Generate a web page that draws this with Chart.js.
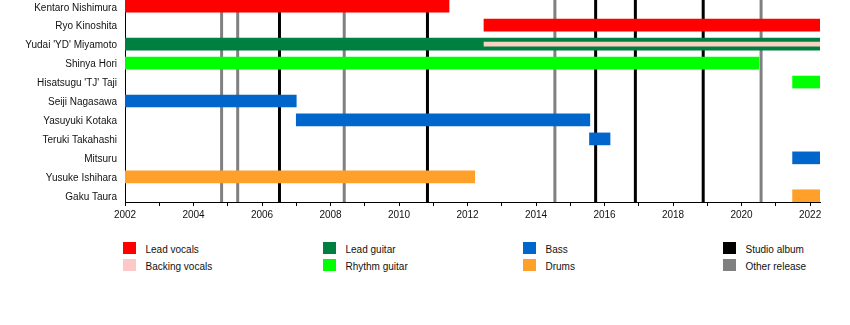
<!DOCTYPE html>
<html>
<head>
<meta charset="utf-8">
<script src="https://cdn.jsdelivr.net/npm/chart.js@4.4.1/dist/chart.umd.min.js"></script>
<style>
  html, body { margin: 0; padding: 0; background: #fff; }
  body { width: 850px; height: 325px; position: relative; overflow: hidden; font-family: "Liberation Sans", Arial, sans-serif; }
  #wrap { position: absolute; left: 0; top: 0; width: 850px; height: 224px; }
  .lg { position: absolute; font-size: 10px; color: #111; line-height: 12px; white-space: nowrap; }
  .sw { position: absolute; width: 13px; height: 12px; }
</style>
</head>
<body>
<div id="wrap"><canvas id="c" width="850" height="224"></canvas></div>
<div id="legend"></div>
<script>
// ---- data ----
const members = [
  "Kentaro Nishimura", "Ryo Kinoshita", "Yudai 'YD' Miyamoto", "Shinya Hori",
  "Hisatsugu 'TJ' Taji", "Seiji Nagasawa", "Yasuyuki Kotaka", "Teruki Takahashi",
  "Mitsuru", "Yusuke Ishihara", "Gaku Taura"
];
// [memberIndex, start, end]
const leadVocals    = [[0, 2002, 2011.46], [1, 2012.48, 2022.29]];
const backingVocals = [[2, 2012.48, 2022.29]];
const leadGuitar    = [[2, 2002, 2022.29]];
const rhythmGuitar  = [[3, 2002, 2020.51], [4, 2021.49, 2022.29]];
const bass          = [[5, 2002, 2007.0], [6, 2007.0, 2015.57], [7, 2015.56, 2016.16], [8, 2021.49, 2022.29]];
const drums         = [[9, 2002, 2012.21], [10, 2021.49, 2022.29]];
const studioAlbums  = [2006.51, 2010.83, 2015.74, 2016.90, 2018.88];
const otherReleases = [2004.82, 2005.29, 2008.40, 2014.55, 2020.57];
const yearTicks = [2002,2003,2004,2005,2006,2007,2008,2009,2010,2011,2012,2013,2014,2015,2016,2017,2018,2019,2020,2021,2022];

const X_MIN = 2002, X_MAX = 2022.29;
const Y_MIN = -0.33, Y_MAX = 10.33;

const roles = [
  { label: 'Lead vocals',    data: leadVocals,    color: '#ff0000', thick: 12, order: 1 },
  { label: 'Backing vocals', data: backingVocals, color: '#f9d2c4', thick: 4,  order: 0 },
  { label: 'Lead guitar',    data: leadGuitar,    color: '#008040', thick: 12, order: 1 },
  { label: 'Rhythm guitar',  data: rhythmGuitar,  color: '#00ff00', thick: 12, order: 1 },
  { label: 'Bass',           data: bass,          color: '#0066cc', thick: 12, order: 1 },
  { label: 'Drums',          data: drums,         color: '#ffa02a', thick: 12, order: 1 }
];
const releases = [
  { label: 'Studio album',  data: studioAlbums,  color: '#000000' },
  { label: 'Other release', data: otherReleases, color: '#808080' }
];

const datasets = [];
roles.forEach(r => {
  datasets.push({
    type: 'bar',
    label: r.label,
    indexAxis: 'y',
    data: r.data.map(d => ({ y: d[0], x: [d[1], d[2]] })),
    backgroundColor: r.color,
    borderWidth: 0,
    grouped: false,
    barThickness: r.thick,
    maxBarThickness: r.thick,
    order: r.order
  });
});
releases.forEach(rel => {
  rel.data.forEach(v => {
    datasets.push({
      type: 'line',
      label: rel.label,
      data: [{ x: v, y: Y_MIN }, { x: v, y: Y_MAX }],
      borderColor: rel.color,
      borderWidth: 3,
      pointRadius: 0,
      fill: false,
      order: 2
    });
  });
});

const font = { family: '"Liberation Sans", Arial, sans-serif', size: 10 };

new Chart(document.getElementById('c'), {
  type: 'bar',
  data: { datasets },
  options: {
    responsive: false,
    animation: false,
    devicePixelRatio: 1,
    layout: { padding: { left: 0, right: 30, top: 0, bottom: 0 } },
    plugins: { legend: { display: false }, tooltip: { enabled: false } },
    scales: {
      x: {
        type: 'linear',
        offset: false,
        grace: 0,
        min: X_MIN, max: X_MAX,
        afterBuildTicks: s => { s.ticks = yearTicks.map(v => ({ value: v })); },
        ticks: {
          autoSkip: false, maxRotation: 0, padding: 3, color: '#111', font,
          callback: v => (v % 2 === 0 ? String(v) : '')
        },
        grid: { offset: false, drawOnChartArea: false, drawTicks: true, tickLength: 4, color: '#000' },
        border: { display: true, color: '#000', width: 1 }
      },
      y: {
        type: 'linear',
        offset: false,
        grace: 0,
        reverse: true,
        min: Y_MIN, max: Y_MAX,
        afterBuildTicks: s => { s.ticks = members.map((_, i) => ({ value: i })); },
        afterFit: s => { s.width = 125; s.paddingTop = 0; s.paddingBottom = 0; },
        ticks: {
          autoSkip: false, padding: 8, labelOffset: 1.5, color: '#111', font,
          callback: v => members[v]
        },
        grid: { offset: false, display: false, drawTicks: false },
        border: { display: true, color: '#000', width: 1 }
      }
    }
  }
});

// ---- legend (HTML) ----
const legendItems = [
  { label: 'Lead vocals', color: '#ff0000', col: 0, row: 0 },
  { label: 'Backing vocals', color: '#fcc8c8', col: 0, row: 1 },
  { label: 'Lead guitar', color: '#008040', col: 1, row: 0 },
  { label: 'Rhythm guitar', color: '#00ff00', col: 1, row: 1 },
  { label: 'Bass', color: '#0066cc', col: 2, row: 0 },
  { label: 'Drums', color: '#ffa02a', col: 2, row: 1 },
  { label: 'Studio album', color: '#000000', col: 3, row: 0 },
  { label: 'Other release', color: '#808080', col: 3, row: 1 }
];
const lg = document.getElementById('legend');
legendItems.forEach(it => {
  const x = 123 + it.col * 200;
  const y = 242 + it.row * 17;
  const sw = document.createElement('div');
  sw.className = 'sw';
  sw.style.left = x + 'px'; sw.style.top = y + 'px'; sw.style.background = it.color;
  lg.appendChild(sw);
  const t = document.createElement('div');
  t.className = 'lg';
  t.style.left = (x + 22.5) + 'px'; t.style.top = (y + 2) + 'px';
  t.textContent = it.label;
  lg.appendChild(t);
});
</script>
</body>
</html>
